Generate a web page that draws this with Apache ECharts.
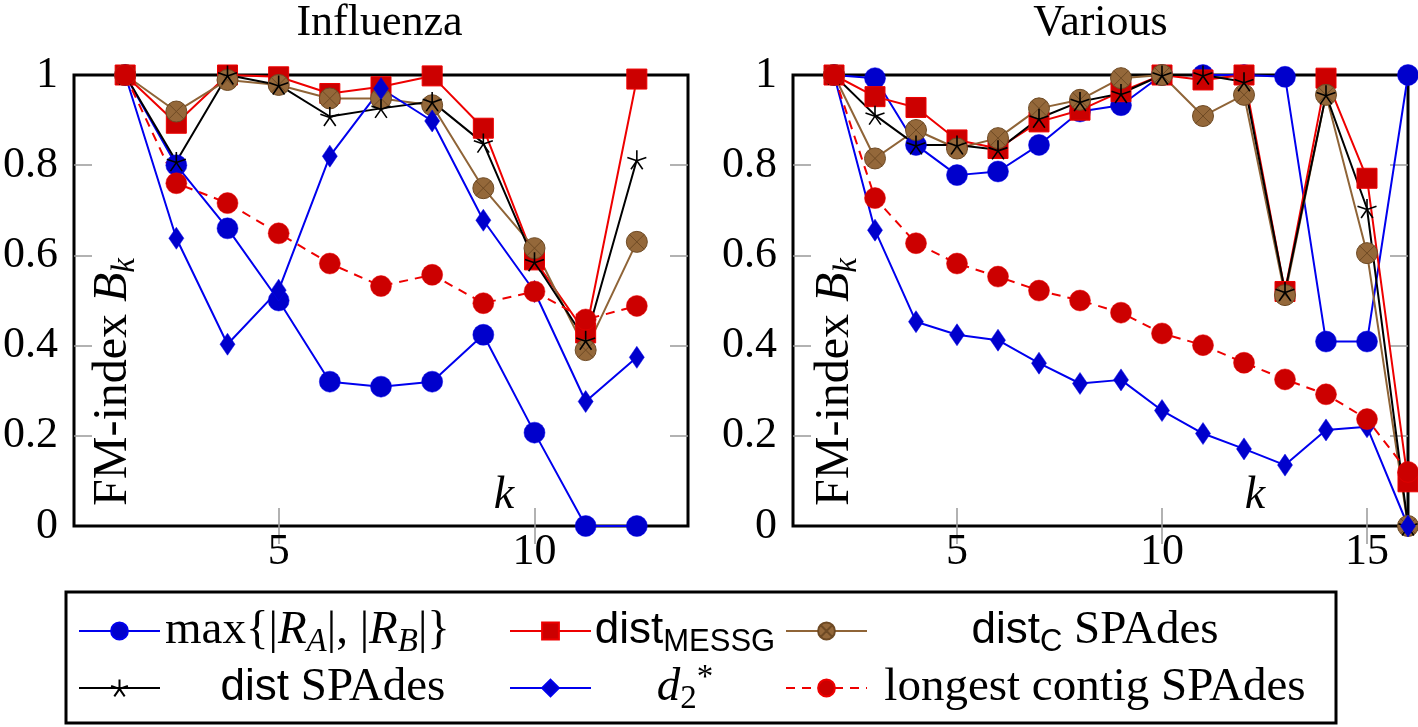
<!DOCTYPE html>
<html>
<head>
<meta charset="utf-8">
<script src="https://cdn.jsdelivr.net/npm/echarts@6/dist/echarts.min.js"></script>
<style>
html,body{margin:0;padding:0;background:#fff;}
#chart{width:1418px;height:727px;}
</style>
</head>
<body>
<div id="chart"></div>
<script>
// ---------------- data ----------------
const kInfluenza = [2, 3, 4, 5, 6, 7, 8, 9, 10, 11, 12];
const kVarious = [2, 3, 4, 5, 6, 7, 8, 9, 10, 11, 12, 13, 14, 15, 16];

const infMaxR    = [1.0, 0.80, 0.66, 0.50, 0.32, 0.309, 0.32, 0.424, 0.207, 0.0, 0.0];
const infMessg   = [1.0, 0.893, 1.0, 0.996, 0.959, 0.974, 0.998, 0.882, 0.59, 0.428, 0.991];
const infDistC   = [1.0, 0.919, 0.989, 0.978, 0.948, 0.948, 0.933, 0.749, 0.616, 0.39, 0.63];
const infDistS   = [1.0, 0.808, 1.0, 0.978, 0.908, 0.926, 0.941, 0.849, 0.586, 0.412, 0.812];
const infD2      = [1.0, 0.638, 0.403, 0.523, 0.82, 0.97, 0.898, 0.678, 0.52, 0.276, 0.374];
const infLongest = [1.0, 0.76, 0.716, 0.649, 0.582, 0.532, 0.557, 0.494, 0.52, 0.458, 0.488];

const varMaxR    = [1.0, 0.993, 0.845, 0.778, 0.786, 0.845, 0.919, 0.933, 1.0, 1.0, 1.0, 0.996, 0.409, 0.409, 1.0];
const varMessg   = [1.0, 0.952, 0.928, 0.856, 0.837, 0.896, 0.922, 0.963, 1.0, 0.989, 1.0, 0.52, 0.993, 0.771, 0.098];
const varDistC   = [1.0, 0.815, 0.878, 0.837, 0.86, 0.926, 0.945, 0.993, 1.0, 0.909, 0.956, 0.512, 0.956, 0.605, 0.0];
const varDistS   = [1.0, 0.911, 0.845, 0.845, 0.834, 0.904, 0.941, 0.959, 1.0, 1.0, 0.985, 0.52, 0.956, 0.704, 0.0];
const varD2      = [1.0, 0.656, 0.453, 0.424, 0.412, 0.361, 0.316, 0.324, 0.256, 0.205, 0.171, 0.135, 0.213, 0.22, 0.0];
const varLongest = [1.0, 0.727, 0.627, 0.582, 0.553, 0.522, 0.5, 0.473, 0.427, 0.401, 0.362, 0.325, 0.292, 0.237, 0.12];

const panelTitles = ['Influenza', 'Various'];
const xTickValuesInf = [5, 10];
const xTickValuesVar = [5, 10, 15];
const yTickValues = [0, 0.2, 0.4, 0.6, 0.8, 1];
const yInnerTicks = [0.2, 0.4, 0.6, 0.8];

const seriesNames = ['maxR', 'messg', 'distC', 'distS', 'd2', 'longest'];

// ---------------- styles ----------------
const SERIF = '"Liberation Serif", "DejaVu Serif", serif';
const SANS = '"Liberation Sans", "DejaVu Sans", sans-serif';
const FS = 44;      // main font size
const LFS = 47;     // legend font size
const SFS = 33;     // sub font size
const LLH = 58;     // legend line height

const STAR_PATH = 'path://M0,-1L0,0M0.951,-0.309L0,0M0.588,0.809L0,0M-0.588,0.809L0,0M-0.951,-0.309L0,0';
const OTIMES_PATH = 'path://M-1,0A1,1,0,1,1,1,0A1,1,0,1,1,-1,0ZM-0.707,-0.707L0.707,0.707M-0.707,0.707L0.707,-0.707';

const styles = {
  maxR:    {line: '#0000ee', type: 'solid',  symbol: 'circle', size: 21, fill: '#0000cc', border: '#0000ee', bw: 0.5},
  messg:   {line: '#ee0000', type: 'solid',  symbol: 'rect', size: 20, fill: '#cc0000', border: '#ee0000', bw: 1},
  distC:   {line: '#8f6437', type: 'solid',  symbol: OTIMES_PATH, size: 21, fill: '#94683a', border: '#6e4a24', bw: 1},
  distS:   {line: '#000000', type: 'solid',  symbol: STAR_PATH, size: 19, fill: '#000000', border: '#000000', bw: 1.6},
  d2:      {line: '#0000ee', type: 'solid',  symbol: 'diamond', size: [15, 22], fill: '#0000cc', border: '#0000ee', bw: 0.5},
  longest: {line: '#ee0000', type: [9, 7],  symbol: 'circle', size: 21, fill: '#cc0000', border: '#ee0000', bw: 0.5}
};

function pairs(ks, vs) { return ks.map((k, i) => [k, vs[i]]); }

function mkSeries(name, axisIdx, ks, vs) {
  const s = styles[name];
  return {
    type: 'line', name: name,
    xAxisIndex: axisIdx, yAxisIndex: axisIdx,
    data: pairs(ks, vs),
    clip: false,
    symbol: s.symbol, symbolSize: s.size,
    lineStyle: {color: s.line, width: 2, type: s.type},
    itemStyle: {color: s.fill, borderColor: s.border, borderWidth: s.bw},
    emphasis: {disabled: true},
    animation: false
  };
}

const infData = {maxR: infMaxR, messg: infMessg, distC: infDistC, distS: infDistS, d2: infD2, longest: infLongest};
const varData = {maxR: varMaxR, messg: varMessg, distC: varDistC, distS: varDistS, d2: varD2, longest: varLongest};

const series = [];
seriesNames.forEach(n => series.push(mkSeries(n, 0, kInfluenza, infData[n])));
seriesNames.forEach(n => series.push(mkSeries(n, 2, kVarious, varData[n])));

// ---------------- layout ----------------
const G = [
  {left: 71, top: 75, width: 617, height: 451, xmin: 1, xmax: 13, xt: xTickValuesInf},
  {left: 793, top: 75, width: 615, height: 451, xmin: 1, xmax: 16, xt: xTickValuesVar}
];

const tickStyle = {show: true, inside: true, length: 18, lineStyle: {color: '#999', width: 1.5}};
const grids = [], xAxes = [], yAxes = [];
G.forEach((g, i) => {
  grids.push({left: g.left, top: g.top, width: g.width, height: g.height, show: true,
              borderColor: '#000', borderWidth: 3, backgroundColor: 'transparent', containLabel: false});
  xAxes.push({type: 'value', gridIndex: i, position: 'bottom', min: g.xmin, max: g.xmax,
    axisLine: {show: false}, splitLine: {show: false},
    axisTick: Object.assign({customValues: g.xt}, tickStyle),
    axisLabel: {customValues: g.xt, color: '#000', fontFamily: SERIF, fontSize: FS, margin: 4}});
  xAxes.push({type: 'value', gridIndex: i, position: 'top', min: g.xmin, max: g.xmax,
    axisLine: {show: false}, splitLine: {show: false},
    axisTick: Object.assign({customValues: g.xt}, tickStyle),
    axisLabel: {show: false}});
  yAxes.push({type: 'value', gridIndex: i, position: 'left', min: 0, max: 1,
    axisLine: {show: false}, splitLine: {show: false},
    axisTick: Object.assign({customValues: yInnerTicks}, tickStyle),
    axisLabel: {customValues: yTickValues, color: '#000', fontFamily: SERIF, fontSize: FS, margin: 16}});
  yAxes.push({type: 'value', gridIndex: i, position: 'right', min: 0, max: 1,
    axisLine: {show: false}, splitLine: {show: false},
    axisTick: Object.assign({customValues: yInnerTicks}, tickStyle),
    axisLabel: {show: false}});
});

// ---------------- legend ----------------
const rich = {
  r:  {fontFamily: SERIF, fontSize: LFS, lineHeight: LLH, color: '#000', align: 'center'},
  i:  {fontFamily: SERIF, fontStyle: 'italic', fontSize: LFS, lineHeight: LLH, color: '#000', align: 'center'},
  is: {fontFamily: SERIF, fontStyle: 'italic', fontSize: SFS, lineHeight: SFS, padding: [22, 0, 0, 0], color: '#000', align: 'center'},
  ns: {fontFamily: SERIF, fontSize: SFS, lineHeight: SFS, padding: [22, 0, 0, 0], color: '#000', align: 'center'},
  sup:{fontFamily: SERIF, fontSize: SFS, lineHeight: SFS, padding: [0, 0, 20, 0], color: '#000', align: 'center'},
  s:  {fontFamily: SANS, fontSize: LFS - 3, lineHeight: LLH, color: '#000', align: 'center'},
  ss: {fontFamily: SANS, fontSize: SFS - 2, lineHeight: SFS, padding: [22, 0, 0, 0], color: '#000', align: 'center'}
};
const legendText = {
  maxR: 'max{|{i|R}{is|A}|, |{i|R}{is|B}|}',
  messg: '{s|dist}{ss|MESSG}',
  distC: '{s|dist}{ss|C}{r| SPAdes}',
  distS: '{s|dist}{r| SPAdes}',
  d2: '{i|d}{ns|2}{sup|*}',
  longest: '{r|longest contig SPAdes}'
};
const ROW1 = 631, ROW2 = 688;   // icon centre lines
const legendPos = {
  maxR:    {left: 78,  row: ROW1, w: null},
  messg:   {left: 509, row: ROW1, w: 178},
  distC:   {left: 785, row: ROW1, w: 446},
  distS:   {left: 78,  row: ROW2, w: 336},
  d2:      {left: 509, row: ROW2, w: 178},
  longest: {left: 785, row: ROW2, w: 446}
};
const legends = seriesNames.map(n => {
  const ts = {rich: rich, color: '#000', fontFamily: SERIF, fontSize: LFS, lineHeight: LLH};
  if (legendPos[n].w) ts.width = legendPos[n].w;
  return {
    show: true, left: legendPos[n].left, top: legendPos[n].row - LLH / 2, padding: 0,
    itemWidth: 81, itemHeight: 21, itemGap: 0, selectedMode: false,
    data: [n],
    formatter: () => legendText[n],
    textStyle: ts
  };
});

// ---------------- graphic text (titles, axis names) ----------------
const ylabelRich = {
  r: {fontFamily: SERIF, fontSize: 48, lineHeight: 48, color: '#000'},
  i: {fontFamily: SERIF, fontStyle: 'italic', fontSize: 48, lineHeight: 48, color: '#000'},
  is: {fontFamily: SERIF, fontStyle: 'italic', fontSize: 33, lineHeight: 33, padding: [24, 0, 0, 0], color: '#000'}
};
const graphic = [];
G.forEach((g, i) => {
  graphic.push({type: 'text', x: g.left + g.width / 2, y: 23,
    style: {text: panelTitles[i], fontFamily: SERIF, fontSize: FS, fill: '#000', textAlign: 'center', textVerticalAlign: 'middle'}});
  graphic.push({type: 'text', x: g.left + 42, y: 382, rotation: Math.PI / 2,
    style: {text: '{r|FM-index }{i|B}{is|k}', rich: ylabelRich, textAlign: 'center', textVerticalAlign: 'middle'}});
});
graphic.push({type: 'text', x: 504, y: 496, style: {text: 'k', fontFamily: SERIF, fontStyle: 'italic', fontSize: 46, fill: '#000', textAlign: 'center', textVerticalAlign: 'middle'}});
graphic.push({type: 'text', x: 1255, y: 496, style: {text: 'k', fontFamily: SERIF, fontStyle: 'italic', fontSize: 46, fill: '#000', textAlign: 'center', textVerticalAlign: 'middle'}});
graphic.push({type: 'rect', shape: {x: 66, y: 592, width: 1270, height: 131}, style: {fill: 'none', stroke: '#000', lineWidth: 3}, z: -1});

const chart = echarts.init(document.getElementById('chart'), null, {renderer: 'canvas'});
chart.setOption({
  animation: false,
  backgroundColor: '#fff',
  grid: grids,
  xAxis: xAxes,
  yAxis: yAxes,
  legend: legends,
  graphic: graphic,
  series: series
});
</script>
</body>
</html>
